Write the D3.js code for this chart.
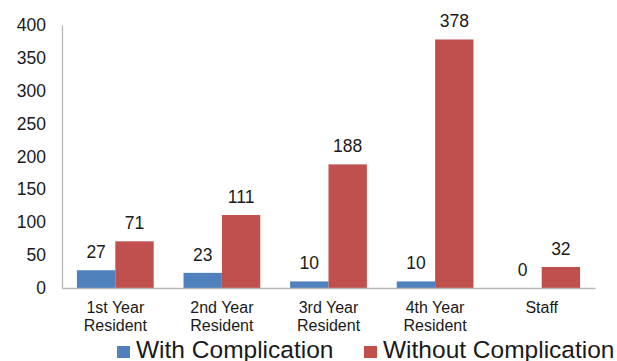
<!DOCTYPE html>
<html>
<head>
<meta charset="utf-8">
<script src="https://cdn.jsdelivr.net/npm/d3@7"></script>
<style>
  html, body { margin: 0; padding: 0; background: #fff; }
  svg { display: block; font-family: "Liberation Sans", Arial, sans-serif; }
</style>
</head>
<body>
<svg id="chart" width="617" height="361"></svg>
<script>
// Procedures by operator level, split by complication outcome
const categories = [["1st Year", "Resident"], ["2nd Year", "Resident"], ["3rd Year", "Resident"], ["4th Year", "Resident"], ["Staff"]];
const withComplication = [27, 23, 10, 10, 0];
const withoutComplication = [71, 111, 188, 378, 32];
const seriesNames = ["With Complication", "Without Complication"];
const seriesColors = ["#4F81BD", "#C0504D"];
const yTicks = [0, 50, 100, 150, 200, 250, 300, 350, 400];

const svg = d3.select("#chart");
const plotLeft = 62, plotRight = 595, plotTop = 25, plotBottom = 288;

const x0 = d3.scaleBand()
  .domain(d3.range(categories.length))
  .range([plotLeft, plotRight])
  .paddingInner(0.28)
  .paddingOuter(0.14);
const x1 = d3.scaleBand().domain([0, 1]).range([0, x0.bandwidth()]);
const y = d3.scaleLinear().domain([0, 400]).range([plotBottom, plotTop]);

const textColor = "#1a1a1a";

// Y axis labels (no tick marks)
const yAxis = svg.append("g")
  .attr("transform", `translate(${plotLeft},0)`)
  .call(d3.axisLeft(y).tickValues(yTicks).tickSize(0).tickPadding(16));
yAxis.select(".domain").attr("stroke", "#b8b8b8").attr("stroke-width", 1.3);
yAxis.selectAll("text").attr("font-size", 17.5).attr("fill", textColor)
  .attr("font-family", "Liberation Sans, Arial, sans-serif");

// Bars with value labels
const series = [withComplication, withoutComplication];
series.forEach((vals, si) => {
  svg.append("g").selectAll("rect")
    .data(vals)
    .join("rect")
    .attr("x", (d, i) => x0(i) + x1(si))
    .attr("y", d => y(d))
    .attr("width", x1.bandwidth())
    .attr("height", d => plotBottom - y(d))
    .attr("fill", seriesColors[si]);

  svg.append("g").selectAll("text")
    .data(vals)
    .join("text")
    .attr("x", (d, i) => x0(i) + x1(si) + x1.bandwidth() / 2)
    .attr("y", d => y(d) - 12)
    .attr("text-anchor", "middle")
    .attr("font-size", 17.5)
    .attr("fill", textColor)
    .text(d => d);
});

// X axis baseline
const xAxis = svg.append("g")
  .attr("transform", `translate(0,${plotBottom})`)
  .call(d3.axisBottom(x0).tickSize(0).tickFormat(""));
xAxis.select(".domain").attr("stroke", "#b8b8b8").attr("stroke-width", 1.3);

// Category labels (two lines)
const catG = svg.append("g");
categories.forEach((lines, i) => {
  const cx = x0(i) + x0.bandwidth() / 2;
  const t = catG.append("text")
    .attr("x", cx)
    .attr("y", 313)
    .attr("text-anchor", "middle")
    .attr("font-size", 16)
    .attr("fill", textColor);
  lines.forEach((ln, k) => {
    t.append("tspan")
      .attr("x", cx)
      .attr("dy", k === 0 ? 0 : 18)
      .text(ln);
  });
});

// Legend along the bottom edge
const legendItems = [{ x: 117, name: seriesNames[0], color: seriesColors[0] },
                     { x: 364, name: seriesNames[1], color: seriesColors[1] }];
const lg = svg.append("g");
legendItems.forEach(it => {
  lg.append("rect").attr("x", it.x).attr("y", 346).attr("width", 13).attr("height", 12).attr("fill", it.color);
  lg.append("text").attr("x", it.x + 19).attr("y", 358)
    .attr("font-size", 24.5).attr("fill", textColor).text(it.name);
});
</script>
</body>
</html>
